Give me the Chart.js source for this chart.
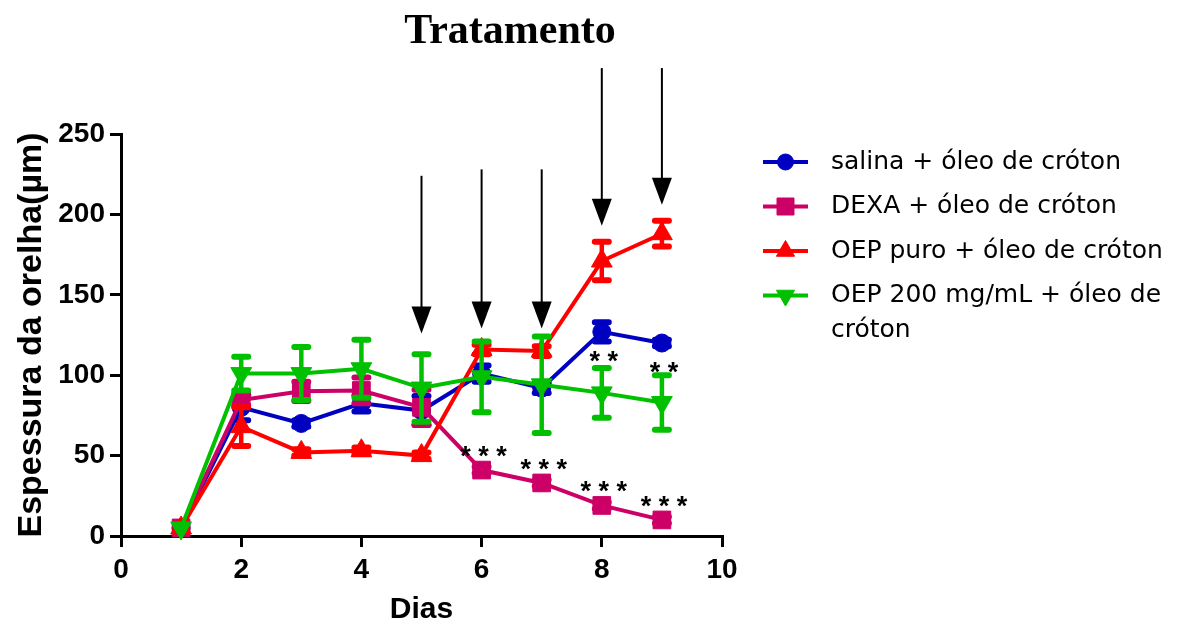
<!DOCTYPE html>
<html><head><meta charset="utf-8">
<script src="https://cdn.jsdelivr.net/npm/chart.js@4/dist/chart.umd.min.js"></script>
<style>html,body{margin:0;padding:0;background:#fff}#wrap{width:1182px;height:625px}</style>
</head><body><div id="wrap"><canvas id="c" width="1182" height="625"></canvas></div>
<script>
// ---------- data ----------
const chartTitle = 'Tratamento';
const xTitle = 'Dias';
const yTitle = 'Espessura da orelha(µm)';
const days = [1, 2, 3, 4, 5, 6, 7, 8, 9];
const xTickLabels = [0, 2, 4, 6, 8, 10];
const yTickLabels = [0, 50, 100, 150, 200, 250];

const seriesNames = ['salina + óleo de cróton', 'DEXA + óleo de cróton', 'OEP puro + óleo de cróton', 'OEP 200 mg/mL + óleo de cróton'];
const salina     = [5, 80, 70, 82.5, 78, 101, 92, 127, 120];
const salinaErr  = [0, 8, 2, 5, 9, 5, 3, 6, 2];
const dexa       = [5, 84.5, 90, 90.5, 80, 41, 33, 19, 10];
const dexaErr    = [0, 3, 6, 8, 11, 2, 2, 2, 2];
const oepPuro    = [5, 68, 52, 53, 50, 116, 115, 171, 188];
const oepPuroErr = [0, 12, 2, 2, 2, 3, 3, 12, 8];
const oep200     = [5, 101, 101, 104, 92, 99, 94, 89, 83];
const oep200Err  = [0, 10.5, 16.5, 18, 21, 22, 30, 15.5, 17];

// treatment arrows (data units)
const arrowDays = [5, 6, 7, 8, 9];
const arrowFrom = [224, 228, 228, 291, 291];
const arrowTo   = [126, 129, 129, 193, 206];

// significance marks
const sigDexaDays = [6, 7, 8, 9];
const sigDexaLabel = '***';
const sigSalinaDays = [8, 9];
const sigSalinaLabel = '**';

// ---------- styles ----------
const colors = ['#0000c0', '#cc0066', '#ff0000', '#00c000'];
const styles = [
  {pointStyle: 'circle', radius: 9, rotation: 0, lRadius: 8},
  {pointStyle: 'rect', radius: 12.5, rotation: 0, lRadius: 12},
  {pointStyle: 'triangle', radius: 12, rotation: 0, lRadius: 10.5},
  {pointStyle: 'triangle', radius: 12, rotation: 180, lRadius: 10.5}
];
const values = [salina, dexa, oepPuro, oep200];
const errors = [salinaErr, dexaErr, oepPuroErr, oep200Err];
const drawOrder = [4, 3, 2, 1];

const datasets = values.map((vals, i) => ({
  label: seriesNames[i],
  data: days.map((d, k) => ({x: d, y: vals[k]})),
  errors: errors[i],
  borderColor: colors[i],
  backgroundColor: colors[i],
  borderWidth: 4,
  pointStyle: styles[i].pointStyle,
  pointRadius: styles[i].radius,
  pointRotation: styles[i].rotation,
  pointBorderWidth: 1,
  pointBackgroundColor: colors[i],
  pointBorderColor: colors[i],
  tension: 0,
  clip: false,
  order: drawOrder[i]
}));

function drawMarker(ctx, style, r, rot, x, y, color) {
  ctx.save();
  ctx.fillStyle = color; ctx.strokeStyle = color; ctx.lineWidth = 1;
  ctx.beginPath();
  if (style === 'circle') {
    ctx.arc(x, y, r, 0, Math.PI * 2);
  } else if (style === 'rect') {
    const s = r * Math.SQRT1_2;
    ctx.rect(x - s, y - s, 2 * s, 2 * s);
  } else {
    let a = rot * Math.PI / 180;
    for (let k = 0; k < 3; k++) {
      const px = x + Math.sin(a) * r, py = y - Math.cos(a) * r;
      if (k === 0) ctx.moveTo(px, py); else ctx.lineTo(px, py);
      a += 2 * Math.PI / 3;
    }
    ctx.closePath();
  }
  ctx.fill(); ctx.stroke();
  ctx.restore();
}

const overlay = {
  id: 'overlay',
  beforeDatasetDraw(chart, args) {
    const ds = chart.data.datasets[args.index];
    const ys = chart.scales.y;
    const ctx = chart.ctx;
    ctx.save();
    ctx.strokeStyle = ds.borderColor;
    args.meta.data.forEach((pt, k) => {
      const e = ds.errors[k];
      if (!e) return;
      const v = ds.data[k].y;
      const yt = ys.getPixelForValue(v + e), yb = ys.getPixelForValue(v - e);
      ctx.lineWidth = 4.5; ctx.lineCap = 'butt';
      ctx.beginPath(); ctx.moveTo(pt.x, yt); ctx.lineTo(pt.x, yb); ctx.stroke();
      ctx.lineWidth = 6; ctx.lineCap = 'round';
      ctx.beginPath();
      ctx.moveTo(pt.x - 7, yt); ctx.lineTo(pt.x + 7, yt);
      ctx.moveTo(pt.x - 7, yb); ctx.lineTo(pt.x + 7, yb);
      ctx.stroke();
    });
    ctx.restore();
  },
  afterDraw(chart) {
    const ctx = chart.ctx, xs = chart.scales.x, ys = chart.scales.y;
    ctx.save();
    // arrows
    ctx.strokeStyle = '#000'; ctx.fillStyle = '#000'; ctx.lineWidth = 2;
    arrowDays.forEach((d, i) => {
      const x = xs.getPixelForValue(d);
      const y0 = ys.getPixelForValue(arrowFrom[i]);
      const y1 = ys.getPixelForValue(arrowTo[i]);
      ctx.beginPath(); ctx.moveTo(x, y0); ctx.lineTo(x, y1 - 20); ctx.stroke();
      ctx.beginPath(); ctx.moveTo(x - 10, y1 - 27); ctx.lineTo(x + 10, y1 - 27); ctx.lineTo(x, y1); ctx.closePath(); ctx.fill();
    });
    // significance marks
    ctx.font = 'bold 27px "Liberation Sans", Arial, sans-serif';
    ctx.textAlign = 'center'; ctx.textBaseline = 'alphabetic';
    const spaced = s => s.split('').join(' ');
    sigDexaDays.forEach(d => {
      const k = days.indexOf(d);
      ctx.fillText(spaced(sigDexaLabel), xs.getPixelForValue(d) + 2, ys.getPixelForValue(dexa[k]) - 5);
    });
    sigSalinaDays.forEach(d => {
      const k = days.indexOf(d);
      ctx.fillText(spaced(sigSalinaLabel), xs.getPixelForValue(d) + 2, ys.getPixelForValue(salina[k]) + 38);
    });
    // title
    ctx.font = 'bold 42px "Liberation Serif", "Times New Roman", serif';
    ctx.fillText(chartTitle, 510, 43);
    // legend
    const lx0 = 763, lx1 = 808, tx = 831, ly0 = 162, dy = 44.5, maxW = 350;
    ctx.font = '25px "DejaVu Sans", sans-serif';
    ctx.textAlign = 'left'; ctx.textBaseline = 'middle';
    chart.data.datasets.forEach((ds, i) => {
      const y = ly0 + i * dy;
      ctx.strokeStyle = ds.borderColor; ctx.lineWidth = 4;
      ctx.beginPath(); ctx.moveTo(lx0, y); ctx.lineTo(lx1, y); ctx.stroke();
      drawMarker(ctx, styles[i].pointStyle, styles[i].lRadius, styles[i].rotation, (lx0 + lx1) / 2, y, ds.borderColor);
      ctx.fillStyle = '#000';
      const words = ds.label.split(' ');
      let line = '';
      const lines = [];
      words.forEach(w => {
        const test = line ? line + ' ' + w : w;
        if (ctx.measureText(test).width > maxW && line) { lines.push(line); line = w; } else line = test;
      });
      lines.push(line);
      lines.forEach((l, j) => ctx.fillText(l, tx, y + j * 35));
    });
    ctx.restore();
  }
};

const tickFont = {family: "'Liberation Sans', Arial, sans-serif", weight: 'bold', size: 28};

new Chart(document.getElementById('c'), {
  type: 'line',
  data: {datasets},
  options: {
    responsive: false,
    animation: false,
    devicePixelRatio: 1,
    layout: {padding: {top: 134, right: 460, bottom: 0, left: 0}},
    plugins: {legend: {display: false}, title: {display: false}, tooltip: {enabled: false}},
    scales: {
      x: {
        type: 'linear', min: 0, max: 10,
        afterBuildTicks: s => { s.ticks = xTickLabels.map(v => ({value: v})); },
        afterFit: s => { s.height = 89; },
        ticks: {font: tickFont, color: '#000', padding: 6, maxRotation: 0, autoSkip: false},
        grid: {drawOnChartArea: false, drawTicks: true, tickLength: 11, color: '#000', lineWidth: 3},
        border: {display: true, color: '#000', width: 3},
        title: {display: true, text: xTitle, font: {family: "'Liberation Sans', Arial, sans-serif", weight: 'bold', size: 30}, color: '#000', padding: {top: 0, bottom: -3}}
      },
      y: {
        type: 'linear', min: 0, max: 250,
        afterBuildTicks: s => { s.ticks = yTickLabels.map(v => ({value: v})); },
        afterFit: s => { s.width = 121; },
        ticks: {font: tickFont, color: '#000', padding: 5, autoSkip: false},
        grid: {drawOnChartArea: false, drawTicks: true, tickLength: 11, color: '#000', lineWidth: 3},
        border: {display: true, color: '#000', width: 3},
        title: {display: true, text: yTitle, font: {family: "'Liberation Sans', Arial, sans-serif", weight: 'bold', size: 34}, color: '#000', padding: {top: 11, bottom: 0}}
      }
    }
  },
  plugins: [overlay]
});
</script></body></html>
